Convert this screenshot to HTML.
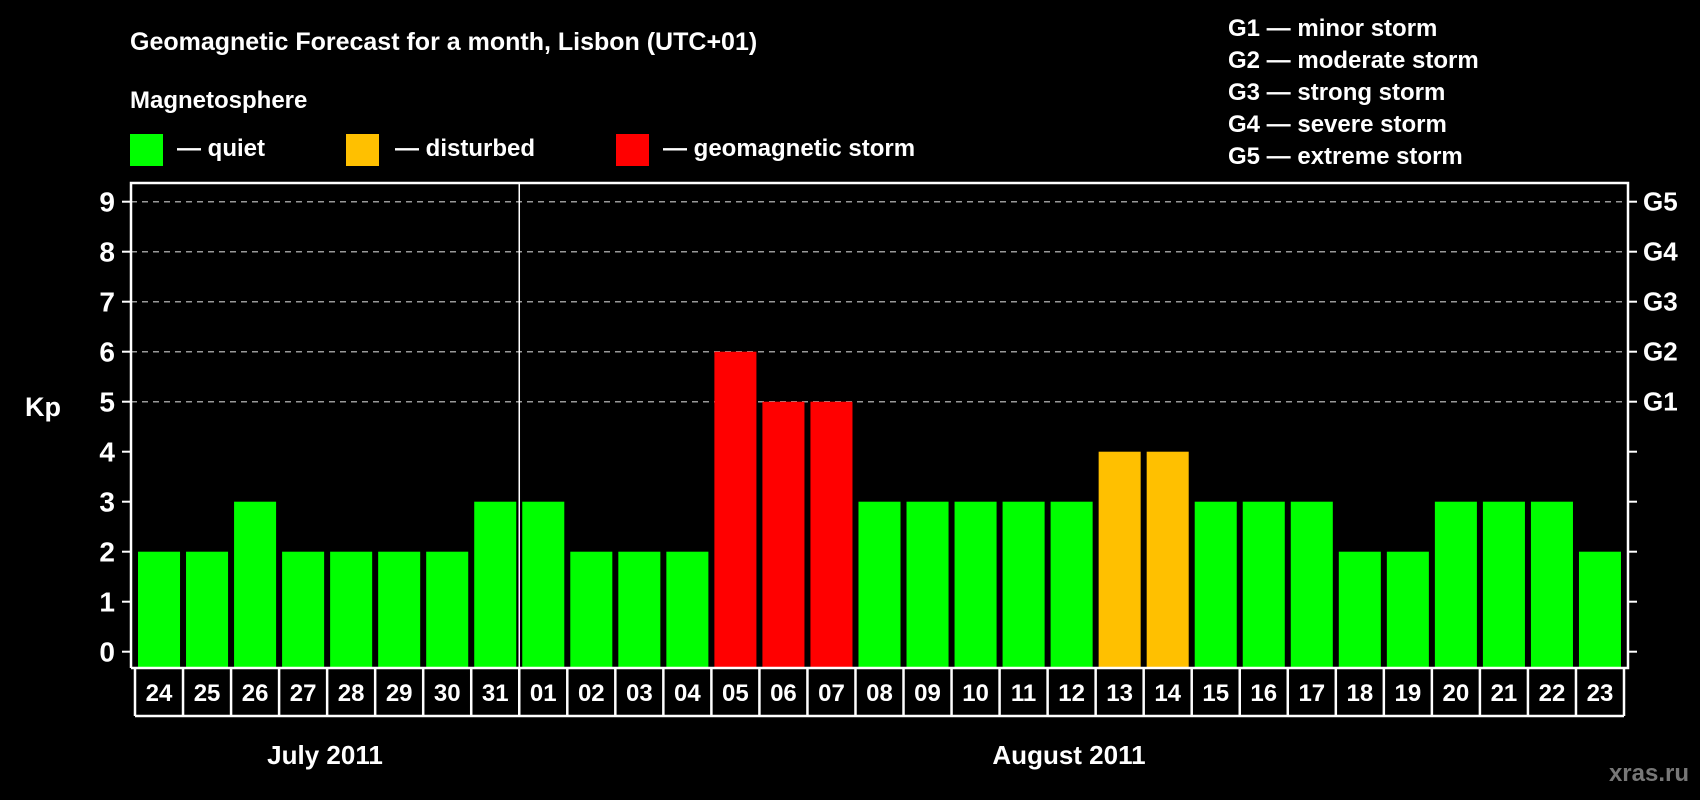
<!DOCTYPE html>
<html><head><meta charset="utf-8"><style>
html,body{margin:0;padding:0;background:#000;width:1700px;height:800px;overflow:hidden}
svg{display:block;font-family:"Liberation Sans",sans-serif;font-weight:bold}
</style></head><body>
<svg id="chart" width="1700" height="800" viewBox="0 0 1700 800">
<rect width="1700" height="800" fill="#000"/>
<text x="130" y="50" fill="#fff" font-size="25">Geomagnetic Forecast for a month, Lisbon (UTC+01)</text>
<text x="130" y="108" fill="#fff" font-size="24">Magnetosphere</text>
<g><rect x="130" y="134" width="33" height="32" fill="#00ff00"/><text x="177" y="156" fill="#fff" font-size="24">— quiet</text></g>
<g><rect x="346" y="134" width="33" height="32" fill="#ffc000"/><text x="395" y="156" fill="#fff" font-size="24">— disturbed</text></g>
<g><rect x="616" y="134" width="33" height="32" fill="#ff0000"/><text x="663" y="156" fill="#fff" font-size="24">— geomagnetic storm</text></g>
<g fill="#fff" font-size="24">
<text x="1228" y="36">G1 — minor storm</text>
<text x="1228" y="68">G2 — moderate storm</text>
<text x="1228" y="100">G3 — strong storm</text>
<text x="1228" y="132">G4 — severe storm</text>
<text x="1228" y="164">G5 — extreme storm</text>
</g>
<text x="43" y="416" fill="#fff" font-size="27" text-anchor="middle">Kp</text>
<g id="plot"></g>
<text x="325" y="764" fill="#fff" font-size="26" text-anchor="middle">July 2011</text>
<text x="1069" y="764" fill="#fff" font-size="26" text-anchor="middle">August 2011</text>
<text x="1689" y="781" fill="#777" font-size="24" text-anchor="end">xras.ru</text>
</svg>
<script>
const days = ["24","25","26","27","28","29","30","31","01","02","03","04","05","06","07","08","09","10","11","12","13","14","15","16","17","18","19","20","21","22","23"];
const kp = [2,2,3,2,2,2,2,3,3,2,2,2,6,5,5,3,3,3,3,3,4,4,3,3,3,2,2,3,3,3,2];
const yTicks = [0,1,2,3,4,5,6,7,8,9];
const gLabels = ["G1","G2","G3","G4","G5"];
const gLevels = [5,6,7,8,9];

const NS="http://www.w3.org/2000/svg";
const plot=document.getElementById('plot');
const L=131,R=1628,T=183,B=668,x0=135,pitch=(R-4-x0)/days.length;
const y=v=>651.7-v*50;
const xb=i=>x0+i*pitch;
function mk(t,a){const e=document.createElementNS(NS,t);for(const k in a)e.setAttribute(k,a[k]);plot.appendChild(e);return e;}

gLevels.forEach((v,i)=>{
  const l=mk('line',{x1:L,x2:R,y1:y(v),y2:y(v),stroke:'#999','stroke-width':1.5,'stroke-dasharray':'6 5'});
  
  
  const t=mk('text',{x:R+15,y:y(v)+9,fill:'#fff','font-size':26});
  t.textContent=gLabels[i];
  
  
});
yTicks.forEach(v=>{
  const a=mk('line',{x1:L-9,x2:L,y1:y(v),y2:y(v),stroke:'#fff','stroke-width':2});
  
  
  const b=mk('line',{x1:R,x2:R+9,y1:y(v),y2:y(v),stroke:'#fff','stroke-width':2});
  
  
  const t=mk('text',{x:L-16,y:y(v)+10,fill:'#fff','font-size':28,'text-anchor':'end'});
  t.textContent=v;
  
  
});
kp.forEach((v,i)=>{
  const c=v>=5?'#ff0000':(v>=4?'#ffc000':'#00ff00');
  const r=mk('rect',{x:xb(i)+3,y:y(v),width:pitch-6,height:B-y(v),fill:c});
  
  
  const t=mk('text',{x:xb(i)+pitch/2,y:701,fill:'#fff','font-size':24,'text-anchor':'middle'});
  t.textContent=days[i];
  
  
});
for(let i=0;i<=days.length;i++){
  const d=mk('line',{x1:xb(i),x2:xb(i),y1:B,y2:716,stroke:'#fff','stroke-width':2.5});
  
  
}
const bl=mk('line',{x1:xb(0),x2:xb(days.length),y1:716,y2:716,stroke:'#fff','stroke-width':2.5});


const fr=mk('path',{d:`M${L},${B} V${T} H${R} V${B} H${L}`,fill:'none',stroke:'#fff','stroke-width':2.5});


const sep=mk('line',{x1:xb(days.indexOf("01")),x2:xb(days.indexOf("01")),y1:T,y2:B,stroke:'#fff','stroke-width':1.5});


</script>
</body></html>
